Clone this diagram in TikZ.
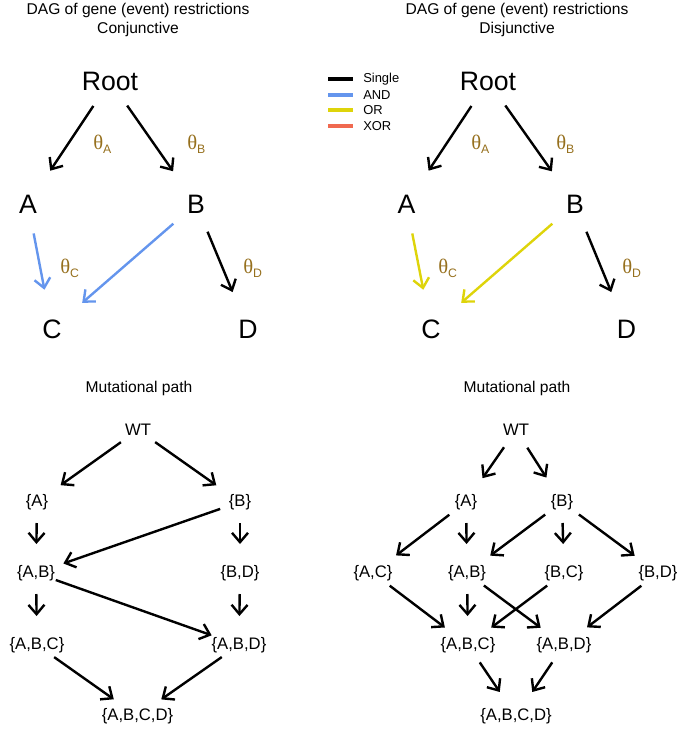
\documentclass[tikz,border=0pt]{standalone}
\usepackage{fontspec}
\setmainfont{Liberation Sans}
\newfontfamily\thetafont{Liberation Serif}
\usetikzlibrary{arrows.meta}

\definecolor{andblue}{RGB}{100,149,237}
\definecolor{oryellow}{RGB}{222,212,10}
\definecolor{xorred}{RGB}{240,105,80}
\definecolor{thetagold}{RGB}{150,112,30}
\newcommand{\thet}[1]{{\thetafont θ}\raisebox{-3pt}{\fontsize{9.2}{10}\selectfont #1}}

\begin{document}
\begin{tikzpicture}[x=0.75pt,y=-0.75pt,
	edge/.style={line width=1.8pt,-{Straight Barb[length=7pt,width=12pt]}},
	dagedge/.style={edge,shorten <=22.5pt,shorten >=30pt},
	pathedge/.style={edge,shorten <=15.75pt,shorten >=21.75pt},
	gene/.style={font=\fontsize{20}{24}\selectfont},
	state/.style={font=\fontsize{12.5}{15}\selectfont},
	ttl/.style={align=center,font=\fontsize{11.7}{14.3}\selectfont},
	theta/.style={anchor=base west,inner sep=0,text=thetagold,font=\fontsize{15.5}{17}\selectfont},
	legline/.style={line width=2.4pt},
	legtext/.style={anchor=west,inner sep=0,font=\fontsize{9.7}{11}\selectfont}]
	\useasboundingbox (0,0) rectangle (676,729);

	\node[ttl] (titleL) at (138,20) {DAG of gene (event) restrictions\\Conjunctive};
	\node[ttl] (titleR) at (517,20) {DAG of gene (event) restrictions\\Disjunctive};

	\node[gene] (rootL) at (110,81) {Root};
	\node[gene] (aL) at (28,204) {A};
	\node[gene] (bL) at (196,204) {B};
	\node[gene] (cL) at (52,329) {C};
	\node[gene] (dL) at (248,329) {D};

	\draw[dagedge] (rootL.center) -- (aL.center);
	\draw[dagedge] (rootL.center) -- (bL.center);
	\draw[dagedge,andblue] (aL.center) -- (cL.center);
	\draw[dagedge,andblue] (bL.center) -- (cL.center);
	\draw[dagedge] (bL.center) -- (dL.center);

	\node[theta] (thAL) at (93,149) {\thet{A}};
	\node[theta] (thBL) at (187,149) {\thet{B}};
	\node[theta] (thCL) at (60,273) {\thet{C}};
	\node[theta] (thDL) at (243,273) {\thet{D}};

	\node[gene] (rootR) at (488,81) {Root};
	\node[gene] (aR) at (406.5,204) {A};
	\node[gene] (bR) at (575,204) {B};
	\node[gene] (cR) at (431,329) {C};
	\node[gene] (dR) at (626.5,329) {D};

	\draw[dagedge] (rootR.center) -- (aR.center);
	\draw[dagedge] (rootR.center) -- (bR.center);
	\draw[dagedge,oryellow] (aR.center) -- (cR.center);
	\draw[dagedge,oryellow] (bR.center) -- (cR.center);
	\draw[dagedge] (bR.center) -- (dR.center);

	\node[theta] (thAR) at (471,149) {\thet{A}};
	\node[theta] (thBR) at (556,149) {\thet{B}};
	\node[theta] (thCR) at (438,273) {\thet{C}};
	\node[theta] (thDR) at (622,273) {\thet{D}};

	\draw[legline] (328,79) -- (353,79);
	\draw[legline,andblue] (328,95) -- (353,95);
	\draw[legline,oryellow] (328,110) -- (353,110);
	\draw[legline,xorred] (328,126) -- (353,126);
	\node[legtext] (legS) at (363,79) {Single};
	\node[legtext] (legA) at (363,95) {AND};
	\node[legtext] (legO) at (363,110) {OR};
	\node[legtext] (legX) at (363,126) {XOR};

	\node[ttl] (pathL) at (139,388) {Mutational path};
	\node[state] (wtL) at (138,430) {WT};
	\node[state] (sAL) at (37,502) {\{A\}};
	\node[state] (sBL) at (240,502) {\{B\}};
	\node[state] (sABL) at (36,573) {\{A,B\}};
	\node[state] (sBDL) at (240,573) {\{B,D\}};
	\node[state] (sABCL) at (37,645) {\{A,B,C\}};
	\node[state] (sABDL) at (239,645) {\{A,B,D\}};
	\node[state] (sABCDL) at (137.5,716) {\{A,B,C,D\}};

	\draw[pathedge] (wtL.center) -- (sAL.center);
	\draw[pathedge] (wtL.center) -- (sBL.center);
	\draw[pathedge] (sAL.center) -- (sABL.center);
	\draw[pathedge] (sBL.center) -- (sABL.center);
	\draw[pathedge] (sBL.center) -- (sBDL.center);
	\draw[pathedge] (sABL.center) -- (sABCL.center);
	\draw[pathedge] (sABL.center) -- (sABDL.center);
	\draw[pathedge] (sBDL.center) -- (sABDL.center);
	\draw[pathedge] (sABCL.center) -- (sABCDL.center);
	\draw[pathedge] (sABDL.center) -- (sABCDL.center);

	\node[ttl] (pathR) at (517,388) {Mutational path};
	\node[state] (wtR) at (516,430) {WT};
	\node[state] (sAR) at (466,502) {\{A\}};
	\node[state] (sBR) at (562,502) {\{B\}};
	\node[state] (sACR) at (373,573) {\{A,C\}};
	\node[state] (sABR) at (467,573) {\{A,B\}};
	\node[state] (sBCR) at (564,573) {\{B,C\}};
	\node[state] (sBDR) at (658,573) {\{B,D\}};
	\node[state] (sABCR) at (468,645) {\{A,B,C\}};
	\node[state] (sABDR) at (564,645) {\{A,B,D\}};
	\node[state] (sABCDR) at (516,716) {\{A,B,C,D\}};

	\draw[pathedge] (wtR.center) -- (sAR.center);
	\draw[pathedge] (wtR.center) -- (sBR.center);
	\draw[pathedge] (sAR.center) -- (sACR.center);
	\draw[pathedge] (sAR.center) -- (sABR.center);
	\draw[pathedge] (sBR.center) -- (sABR.center);
	\draw[pathedge] (sBR.center) -- (sBCR.center);
	\draw[pathedge] (sBR.center) -- (sBDR.center);
	\draw[pathedge] (sACR.center) -- (sABCR.center);
	\draw[pathedge] (sABR.center) -- (sABCR.center);
	\draw[pathedge] (sABR.center) -- (sABDR.center);
	\draw[pathedge] (sBCR.center) -- (sABCR.center);
	\draw[pathedge] (sBDR.center) -- (sABDR.center);
	\draw[pathedge] (sABCR.center) -- (sABCDR.center);
	\draw[pathedge] (sABDR.center) -- (sABCDR.center);
    \end{tikzpicture}
\end{document}
